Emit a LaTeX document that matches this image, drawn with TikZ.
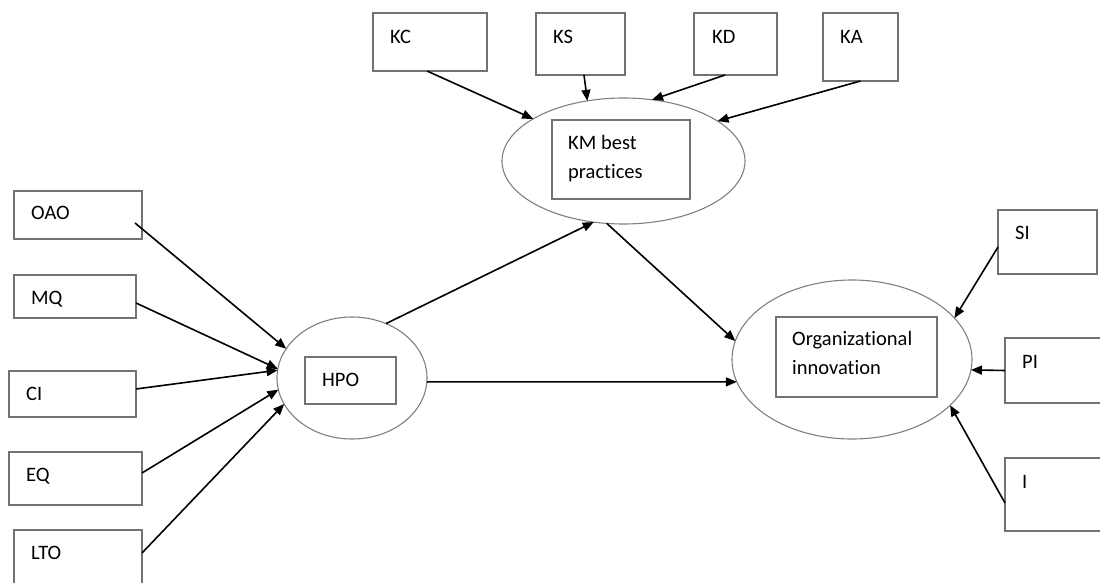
\documentclass[tikz,border=0pt]{standalone}
\usepackage{fontspec}
\setmainfont{Carlito}[Ligatures={NoCommon}]
\usetikzlibrary{shapes.geometric,arrows.meta,calc}
\tikzset{
  box/.style={draw=black!55, line width=1.5pt, rectangle, inner sep=0pt, outer sep=0pt},
  oval/.style={draw=black!50, line width=1.1pt, ellipse, inner sep=0pt, outer sep=0pt},
  lbl/.style={inner sep=0pt, font=\fontsize{20.5}{29}\selectfont, text=black, anchor=base west},
  mlbl/.style={inner sep=0pt, font=\fontsize{20.5}{29}\selectfont, text=black, anchor=north west, align=left},
  arr/.style={draw=black, line width=1.6pt, -{Triangle[length=11pt,width=9pt]}}
}
\begin{document}
\begin{tikzpicture}[x=1pt,y=-1pt]
\useasboundingbox (0,0) rectangle (1100,583);
\clip (0,0) rectangle (1100,583);
\fill[white] (0,0) rectangle (1100,583);
% top boxes
\node[box, minimum width=114pt, minimum height=58pt] (KC) at (430,42) {};
\node[box, minimum width=89pt, minimum height=62pt] (KS) at (580.5,44) {};
\node[box, minimum width=83pt, minimum height=62pt] (KD) at (735.5,44) {};
\node[box, minimum width=75pt, minimum height=68pt] (KA) at (860.5,47) {};
\node[lbl] (KCt) at (390,43.5) {KC};
\node[lbl] (KSt) at (553,43.5) {KS};
\node[lbl] (KDt) at (712,43.5) {KD};
\node[lbl] (KAt) at (840,43.5) {KA};
% KM
\node[oval, minimum width=243pt, minimum height=126pt] (KM) at (623.5,161) {};
\node[box, minimum width=138pt, minimum height=79pt] (KMb) at (621,159.5) {};
\node[mlbl] (KMt) at (568,135.5) {KM best\\practices};
% left boxes
\node[box, minimum width=128pt, minimum height=48pt] (OAO) at (78,215) {};
\node[box, minimum width=122pt, minimum height=43pt] (MQ) at (75,296.5) {};
\node[box, minimum width=127pt, minimum height=46pt] (CI) at (72.5,394) {};
\node[box, minimum width=133pt, minimum height=53pt] (EQ) at (75.5,478.5) {};
\node[box, minimum width=128pt, minimum height=66pt] (LTO) at (78,563) {};
\node[lbl] (OAOt) at (31,219.5) {OAO};
\node[lbl] (MQt) at (31,304.5) {MQ};
\node[lbl] (CIt) at (26,400.5) {CI};
\node[lbl] (EQt) at (26,481.5) {EQ};
\node[lbl] (LTOt) at (31,559.5) {LTO};
% HPO
\node[oval, minimum width=150pt, minimum height=122pt] (HPO) at (352,378) {};
\node[box, minimum width=91pt, minimum height=47pt] (HPOb) at (350.5,380.5) {};
\node[lbl] (HPOt) at (322,386.5) {HPO};
% OI
\node[oval, minimum width=240pt, minimum height=159pt] (OI) at (852,359.5) {};
\node[box, minimum width=161pt, minimum height=80pt] (OIb) at (856.5,357) {};
\node[mlbl] (OIt) at (792,331.5) {Organizational\\innovation};
% right boxes
\node[box, minimum width=99pt, minimum height=64pt] (SI) at (1047.5,242) {};
\node[box, minimum width=107pt, minimum height=65pt] (PI) at (1058.5,370.5) {};
\node[box, minimum width=107pt, minimum height=73pt] (I) at (1058.5,494.5) {};
\node[lbl] (SIt) at (1015,239.5) {SI};
\node[lbl] (PIt) at (1022,368.5) {PI};
\node[lbl] (It) at (1022,488.5) {I};
% arrows into KM
\draw[arr] ($(KC.south)+(-3,0)$) -- (KM.155);
\draw[arr] ($(KS.south)+(3.5,0)$) -- (KM.121);
\draw[arr] ($(KD.south)+(-10.5,0)$) -- (KM.65);
\draw[arr] (KA.south) -- (KM.23.5);
% arrows into HPO
\draw[arr] ($(OAO.east)+(-7,8)$) -- (HPO.156);
\draw[arr] ($(MQ.east)+(0,6.5)$) -- (HPO.173);
\draw[arr] ($(CI.east)+(0,-5)$) -- (HPO.174);
\draw[arr] ($(EQ.east)+(0,-5.5)$) -- (HPO.189);
\draw[arr] ($(LTO.east)+(0,-10)$) -- (HPO.201);
% structural
\draw[arr] (HPO.58) -- (KM.-116);
\draw[arr] (KM.-105) -- (OI.171.5);
\draw[arr] (HPO.-3) -- (OI.191.5);
% arrows into OI
\draw[arr] ($(SI.west)+(0,5)$) -- (OI.22);
\draw[arr] (PI.west) -- (OI.-5);
\draw[arr] ($(I.west)+(0,8.5)$) -- (OI.-25.5);
\end{tikzpicture}
\end{document}
